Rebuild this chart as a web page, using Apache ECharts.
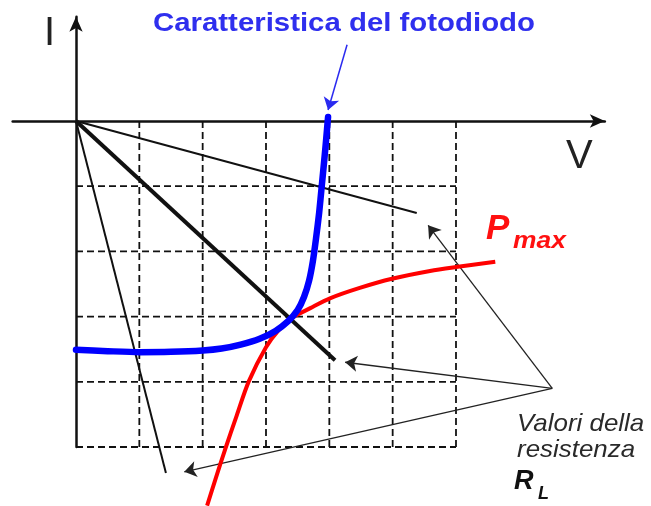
<!DOCTYPE html>
<html>
<head>
<meta charset="utf-8">
<title>Caratteristica del fotodiodo</title>
<script src="https://cdn.jsdelivr.net/npm/echarts@6/dist/echarts.min.js"></script>
<style>
  html, body { margin: 0; padding: 0; background: #ffffff; }
  #chart { width: 651px; height: 506px; }
</style>
</head>
<body>
<div id="chart"></div>
<script>
// Dashed reference grid (V columns, I rows)
const gridCols = [1, 2, 3, 4, 5, 6];
const gridRows = [-1, -2, -3, -4, -5];

// Photodiode I-V characteristic (V, I)
const diodeV = [0, 0.5, 1.0, 1.5, 2.0, 2.3, 2.6, 2.9, 3.15, 3.35, 3.5, 3.6, 3.68, 3.74, 3.79, 3.84, 3.88, 3.92, 3.95, 3.98];
const diodeI = [-3.51, -3.53, -3.545, -3.54, -3.52, -3.49, -3.43, -3.34, -3.22, -3.07, -2.9, -2.7, -2.45, -2.15, -1.8, -1.4, -1.0, -0.6, -0.28, 0.06];

// Locus of maximum power points (V, I)
const pmaxV = [2.07, 2.2, 2.35, 2.54, 2.73, 3.0, 3.19, 3.41, 3.7, 4.01, 4.48, 4.99, 5.59, 6.0, 6.62];
const pmaxI = [-5.9, -5.5, -5.05, -4.51, -3.99, -3.47, -3.22, -3.02, -2.87, -2.72, -2.56, -2.42, -2.3, -2.24, -2.16];

// Load lines through the origin: end point of each (V, I)
const loadEndV = [5.38, 4.09, 1.42];
const loadEndI = [-1.41, -3.67, -5.4];
const loadWidth = [2, 4, 2];

// Callout arrows for the load resistance values
const calloutFrom = [7.52, -4.1];
const calloutToV = [5.56, 4.25, 1.71];
const calloutToI = [-1.6, -3.7, -5.38];

// Arrow from the diode caption to its curve
const captionArrowV = [4.28, 3.98];
const captionArrowI = [1.17, 0.17];

const chart = echarts.init(document.getElementById('chart'), null, { renderer: 'canvas' });

const pxPerV = 63.333;
const pxPerI = 65.2;
const xMin = -1, xMax = 8.35, yMin = -5, yMax = 1.6;

const zip = (a, b) => a.map((v, i) => [v, b[i]]);

const series = [];

gridCols.forEach(v => {
  series.push({
    type: 'line', silent: true, symbol: 'none', z: 1,
    data: [[v, 0], [v, yMin]],
    lineStyle: { color: '#111', width: 1.8, type: [7, 4] }
  });
});
gridRows.forEach(i => {
  series.push({
    type: 'line', silent: true, symbol: 'none', z: 1,
    data: [[0, i], [6, i]],
    lineStyle: { color: '#111', width: 1.8, type: [7, 4] }
  });
});

loadEndV.forEach((v, k) => {
  series.push({
    type: 'line', silent: true, symbol: 'none', clip: false, z: 3,
    data: [[0, 0], [v, loadEndI[k]]],
    lineStyle: { color: '#111', width: loadWidth[k] }
  });
});

series.push({
  type: 'lines', coordinateSystem: 'cartesian2d', silent: true, clip: false, z: 3,
  symbol: ['none', 'arrow'], symbolSize: 12,
  lineStyle: { color: '#222', width: 1.3, opacity: 1 },
  data: calloutToV.map((v, k) => ({ coords: [calloutFrom, [v, calloutToI[k]]] }))
});

series.push({
  type: 'lines', coordinateSystem: 'cartesian2d', silent: true, clip: false, z: 3,
  symbol: ['none', 'arrow'], symbolSize: 12,
  lineStyle: { color: '#2a2af0', width: 1.5, opacity: 1 },
  data: [{ coords: zip(captionArrowV, captionArrowI) }]
});

series.push({
  name: 'Pmax', type: 'line', silent: true, symbol: 'none', clip: false, z: 4,
  smooth: 0.3,
  data: zip(pmaxV, pmaxI),
  lineStyle: { color: '#ff0000', width: 4 }
});

series.push({
  name: 'Fotodiodo', type: 'line', silent: true, symbol: 'none', clip: false, z: 5,
  smooth: 0.25,
  data: zip(diodeV, diodeI),
  lineStyle: { color: '#0000ff', width: 6.5, cap: 'round', join: 'round' }
});

const axisCommon = {
  type: 'value',
  axisLabel: { show: false },
  axisTick: { show: false },
  splitLine: { show: false },
  axisLine: {
    show: true, onZero: true,
    symbol: ['none', 'arrow'], symbolSize: [10, 15],
    lineStyle: { color: '#111', width: 2.5 }
  }
};

const textEl = (text, x, y, font, fill, sx) => ({
  type: 'text', x: x, y: y, scaleX: sx || 1, silent: true, z: 10,
  style: { text: text, font: font, fill: fill, verticalAlign: 'middle', align: 'left' }
});

chart.setOption({
  animation: false,
  backgroundColor: '#ffffff',
  grid: {
    left: 76 + xMin * pxPerV,
    top: 121 - yMax * pxPerI,
    width: (xMax - xMin) * pxPerV,
    height: (yMax - yMin) * pxPerI,
    containLabel: false
  },
  xAxis: Object.assign({}, axisCommon, { min: xMin, max: xMax }),
  yAxis: Object.assign({}, axisCommon, { min: yMin, max: yMax }),
  series: series,
  graphic: [
    textEl('Caratteristica del fotodiodo', 153, 24, 'bold 26px "Liberation Sans", Arial, sans-serif', '#2f2fee', 1.13),
    textEl('I', 44, 34, '40px "Liberation Sans", Arial, sans-serif', '#222'),
    textEl('V', 566, 157, '40px "Liberation Sans", Arial, sans-serif', '#222'),
    textEl('P', 486, 229, 'italic bold 35px "Liberation Sans", Arial, sans-serif', '#ff1010'),
    textEl('max', 513, 241, 'italic bold 24px "Liberation Sans", Arial, sans-serif', '#ff1010', 1.1),
    textEl('Valori della', 517, 424, 'italic 24px "Liberation Sans", Arial, sans-serif', '#2a2a2a', 1.08),
    textEl('resistenza', 517, 450, 'italic 24px "Liberation Sans", Arial, sans-serif', '#2a2a2a', 1.08),
    textEl('R', 514, 482, 'italic bold 27px "Liberation Sans", Arial, sans-serif', '#111'),
    textEl('L', 538, 494, 'italic bold 18px "Liberation Sans", Arial, sans-serif', '#111')
  ]
});
</script>
</body>
</html>
